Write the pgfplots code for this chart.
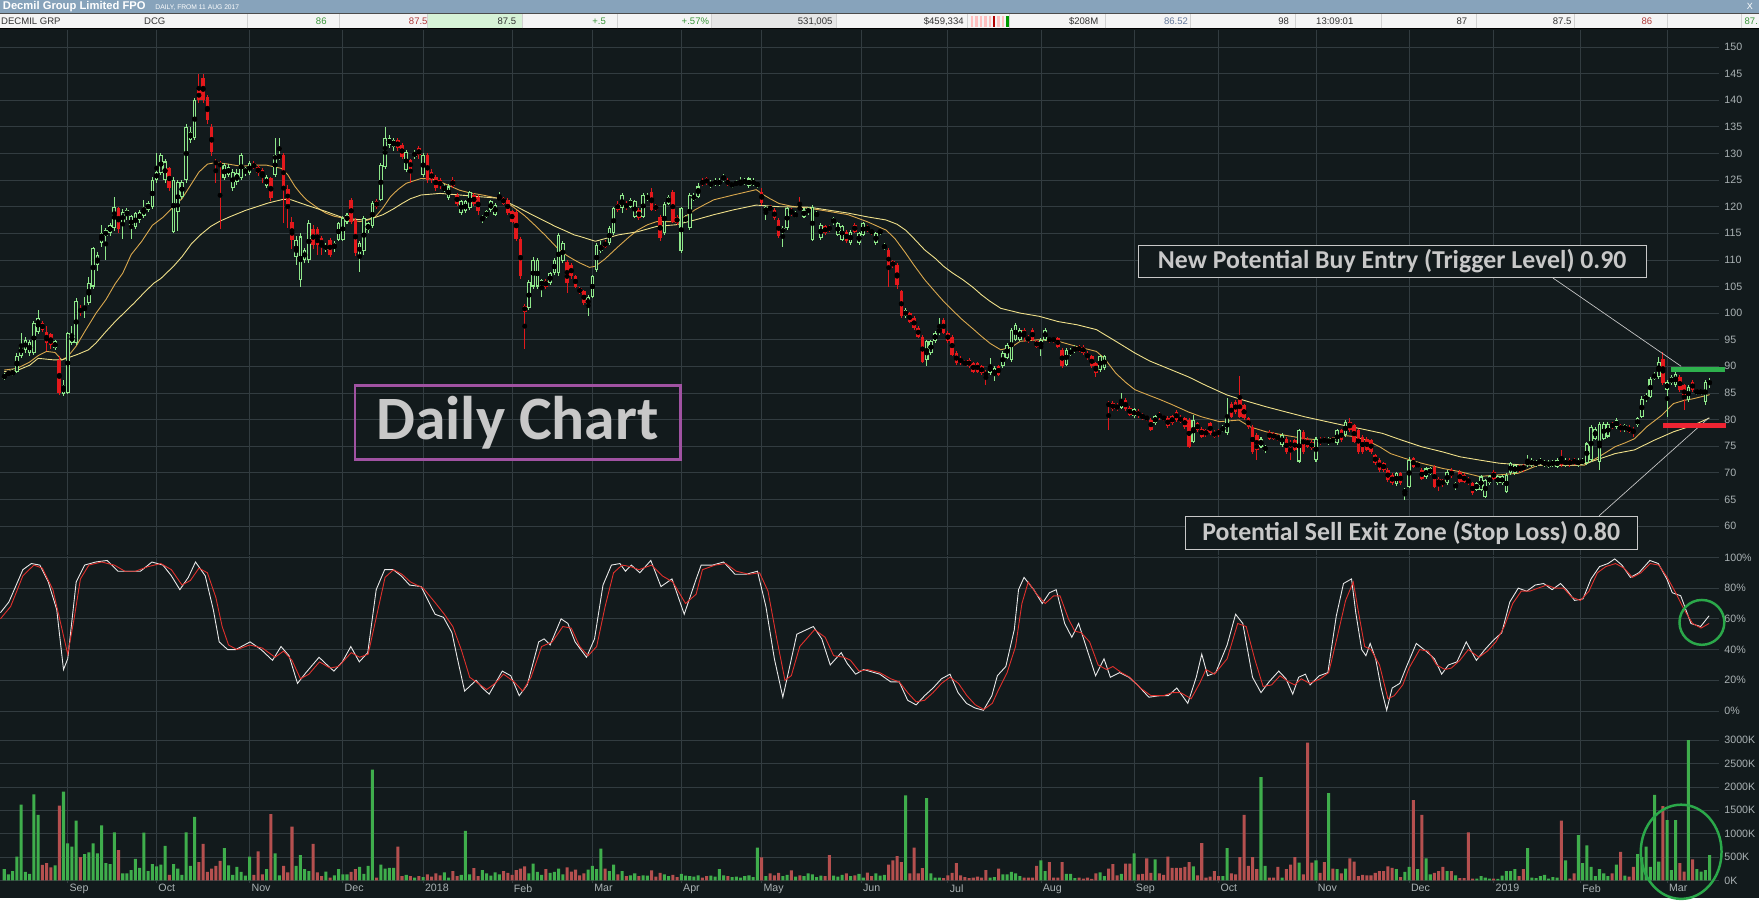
\documentclass[border=0pt]{standalone}
\usepackage{fontspec}
\setmainfont{Liberation Sans}
\newfontfamily\calib{Carlito}
\usepackage{pgfplots}
\usepackage{pgfplotstable}
\pgfplotsset{compat=1.18}
\definecolor{bg}{RGB}{18,26,28}
\definecolor{gridc}{RGB}{50,60,64}
\definecolor{lab}{RGB}{170,178,180}
\definecolor{cup}{RGB}{143,232,139}
\definecolor{cdn}{RGB}{227,25,28}
\definecolor{volg}{RGB}{63,174,76}
\definecolor{volr}{RGB}{181,80,79}
\definecolor{mafast}{RGB}{217,168,78}
\definecolor{maslow}{RGB}{239,224,138}
\definecolor{stw}{RGB}{232,232,232}
\definecolor{str}{RGB}{224,48,44}
\definecolor{boxt}{RGB}{200,200,200}
\definecolor{purp}{RGB}{160,82,162}
\definecolor{lvlg}{RGB}{46,177,77}
\definecolor{lvlr}{RGB}{238,36,50}
\definecolor{circ}{RGB}{43,168,74}
\definecolor{titlebar}{RGB}{135,163,187}
\definecolor{rowbg}{RGB}{244,244,244}
\definecolor{rowtx}{RGB}{50,50,50}
\definecolor{rowg}{RGB}{58,150,58}
\definecolor{rowr}{RGB}{176,58,58}
\definecolor{cellg}{RGB}{214,242,214}
\definecolor{cellgr}{RGB}{230,230,230}
\definecolor{rowb}{RGB}{100,120,155}

\pgfplotstableread{
d o h l c v
0 87.7 88.8 87.4 88.4 240
1 88.4 89.2 88.2 88.9 130
2 88.5 89.5 88.2 89.0 200
3 89.0 92.5 88.8 91.9 510
4 91.9 96.2 91.5 94.0 1620
5 93.0 95.5 92.5 95.0 180
6 92.5 95.0 92.0 94.5 140
7 92.5 98.5 92.2 98.1 1840
8 96.5 100.6 96.0 99.0 1400
9 98.1 98.5 96.5 96.9 330
10 96.5 97.5 92.8 94.4 370
11 96.0 96.2 93.2 94.0 280
12 93.4 95.0 93.0 94.7 320
13 91.2 92.0 84.6 85.0 1600
14 84.8 87.5 84.5 86.5 1900
15 85.0 96.5 84.8 96.2 790
16 94.4 97.5 94.0 96.0 720
17 94.4 102.8 94.0 102.2 1280
18 101.0 101.5 99.5 100.0 500
19 100.5 103.0 99.0 101.2 560
20 101.9 106.8 101.5 105.6 600
21 105.0 112.5 104.5 112.2 790
22 109.0 111.5 108.0 111.0 580
23 113.1 116.5 112.5 115.0 1180
24 114.4 116.0 110.0 115.6 370
25 115.0 117.0 114.5 116.6 350
26 116.0 121.9 115.5 120.0 1030
27 119.7 120.0 115.0 115.9 650
28 116.9 119.5 114.0 119.0 150
29 118.2 119.8 117.5 119.4 150
30 116.0 118.5 114.0 118.2 220
31 116.2 119.0 115.8 118.8 460
32 117.5 119.3 117.0 119.0 270
33 118.2 121.2 117.8 120.0 1020
34 119.4 121.0 119.0 120.7 200
35 120.0 125.5 119.5 125.0 350
36 125.0 130.0 124.5 126.6 300
37 126.3 130.0 126.0 129.7 340
38 125.0 129.0 124.5 128.5 740
39 127.2 127.5 123.0 123.5 120
40 115.3 125.5 115.0 125.0 350
41 119.0 125.0 115.5 124.7 250
42 121.9 125.0 121.5 124.7 120
43 125.0 135.5 124.5 135.0 1030
44 132.5 135.0 132.0 134.1 310
45 132.9 140.5 132.5 140.0 1360
46 141.9 145.0 139.5 140.0 390
47 144.1 145.0 139.5 140.0 780
48 140.7 141.0 135.5 136.3 180
49 135.0 135.5 129.5 130.3 250
50 128.5 129.0 124.5 128.0 310
51 128.2 128.5 115.8 127.5 420
52 125.3 128.3 125.0 127.8 690
53 126.0 128.0 125.5 127.5 320
54 123.5 127.0 123.0 126.6 120
55 124.7 127.0 124.0 126.3 290
56 125.3 130.0 125.0 129.7 185
57 126.3 127.5 125.8 127.2 100
58 126.3 128.5 126.0 128.2 510
59 128.2 128.5 127.0 127.2 120
60 127.5 127.8 125.8 126.3 620
61 126.9 127.2 124.5 125.6 130
62 123.8 126.0 123.5 125.6 240
63 125.3 125.6 121.0 121.6 1420
64 126.0 133.0 125.5 129.7 580
65 129.1 133.0 128.8 129.7 110
66 129.7 130.0 117.0 123.1 310
67 123.4 124.0 116.0 120.6 170
68 117.2 118.0 112.0 113.8 1150
69 110.6 114.5 109.0 113.8 310
70 106.2 115.0 105.0 114.4 540
71 110.0 112.3 109.5 111.9 240
72 110.0 117.5 109.5 116.9 200
73 115.9 116.5 112.0 112.8 780
74 115.9 116.2 111.0 112.8 170
75 114.1 114.5 111.0 112.5 90
76 111.9 113.2 111.5 112.8 190
77 113.8 114.2 110.5 111.0 60
78 112.2 113.5 111.5 113.1 110
79 113.8 117.2 113.5 116.9 240
80 113.8 118.2 113.5 117.8 130
81 117.2 118.8 116.8 118.5 130
82 121.3 121.6 116.8 117.2 180
83 117.5 117.8 110.8 111.3 240
84 110.9 113.5 107.8 113.1 290
85 111.6 118.2 111.0 117.8 140
86 115.6 117.2 115.0 116.9 310
87 116.3 121.0 116.0 120.7 2370
88 121.0 121.5 119.5 120.0 60
89 121.3 128.2 121.0 127.8 340
90 127.5 135.0 127.0 132.9 250
91 131.6 133.5 131.0 132.9 270
92 131.3 133.0 130.5 132.6 270
93 132.6 133.0 130.5 131.0 720
94 131.6 131.9 129.0 129.4 90
95 126.9 130.6 126.5 130.3 120
96 128.8 129.0 124.4 127.0 90
97 129.4 130.6 129.0 130.3 60
98 131.0 131.5 129.0 129.7 90
99 126.0 130.0 125.5 129.7 70
100 129.7 130.0 124.5 125.0 130
101 126.6 127.0 124.5 125.0 80
102 125.6 126.0 123.0 123.5 150
103 125.0 125.3 123.3 123.8 110
104 123.1 124.2 122.8 123.8 170
105 121.6 124.2 121.3 123.8 60
106 125.0 125.5 123.5 123.8 200
107 122.2 122.5 120.2 120.6 90
108 118.8 121.3 118.5 121.0 120
109 119.1 121.3 118.8 121.0 1060
110 119.7 123.0 119.4 122.8 130
111 122.2 122.5 120.2 120.6 260
112 121.9 122.2 118.5 119.1 90
113 117.5 118.5 116.9 118.1 220
114 118.1 119.4 117.8 119.1 150
115 119.4 121.3 119.0 121.0 100
116 118.5 120.7 118.2 120.4 170
117 121.3 122.8 121.0 121.9 130
118 121.6 121.9 120.3 120.6 200
119 121.3 121.6 118.5 118.8 160
120 119.1 119.4 116.9 117.2 120
121 119.0 119.3 113.5 114.0 220
122 114.0 114.3 106.5 106.9 250
123 101.3 101.8 93.3 100.3 300
124 100.9 106.2 100.5 105.9 150
125 105.0 110.5 104.5 110.0 360
126 105.0 110.3 104.5 110.0 180
127 105.0 106.5 103.0 106.2 120
128 106.0 106.5 104.6 105.0 240
129 105.6 107.8 105.3 107.5 160
130 107.5 110.3 107.2 110.0 180
131 107.5 115.0 107.0 114.7 250
132 109.7 113.5 109.4 113.1 130
133 109.7 110.0 103.8 105.6 280
134 109.1 109.4 106.5 106.9 190
135 106.9 107.2 104.7 105.0 230
136 104.7 105.0 103.5 103.8 110
137 104.1 104.4 101.5 101.9 150
138 101.2 103.4 99.4 103.1 230
139 103.1 107.2 102.8 106.9 310
140 108.1 113.1 107.8 112.8 240
141 111.6 113.5 111.3 112.8 680
142 113.4 113.7 112.2 112.5 250
143 113.1 116.3 112.8 116.0 200
144 115.0 120.0 114.7 119.7 340
145 120.6 121.0 119.0 119.4 130
146 119.7 122.5 118.8 122.2 200
147 120.6 121.0 119.4 119.7 90
148 120.0 121.6 119.7 121.3 110
149 118.1 121.3 117.8 121.0 150
150 119.4 119.7 117.5 117.8 90
151 118.1 122.5 117.8 122.2 110
152 121.3 122.5 121.0 122.2 100
153 122.8 123.5 119.1 119.4 215
154 120.3 120.6 119.1 119.4 80
155 118.1 118.4 113.5 114.1 160
156 115.0 120.9 114.7 120.6 130
157 120.6 122.2 120.3 121.9 90
158 122.8 123.1 116.9 117.2 120
159 118.1 118.4 116.6 116.9 70
160 111.6 120.0 111.3 119.7 140
161 117.2 118.4 116.9 118.1 100
162 116.0 122.5 115.7 122.2 90
163 121.3 122.5 121.0 122.2 80
164 121.9 124.5 121.6 123.8 110
165 125.0 125.3 123.8 124.1 60
166 125.3 125.6 124.1 124.4 90
167 123.8 125.0 123.5 124.7 100
168 124.1 125.3 123.8 125.0 80
169 124.1 125.3 123.8 125.0 240
170 125.0 126.1 124.7 125.8 110
171 125.0 125.3 123.8 124.1 90
172 123.8 124.7 123.5 124.4 70
173 124.1 125.0 123.8 124.7 80
174 124.1 125.5 123.8 124.7 60
175 124.4 125.3 124.1 125.0 90
176 123.8 125.6 123.5 125.3 110
177 124.1 125.3 123.8 125.0 70
178 123.9 124.7 123.6 124.4 700
179 122.8 123.5 120.4 120.7 490
180 118.8 120.3 117.5 120.0 90
181 120.0 120.3 119.1 119.4 150
182 119.4 119.7 117.5 117.8 110
183 117.5 117.8 114.1 114.4 160
184 115.0 116.3 112.5 116.0 90
185 116.0 120.0 115.7 119.7 120
186 119.4 119.7 118.2 118.8 215
187 118.1 119.1 117.8 118.8 80
188 120.0 121.9 119.1 119.4 110
189 118.1 119.7 117.8 119.4 90
190 118.8 120.0 118.5 119.7 150
191 113.8 120.3 113.5 120.0 130
192 118.3 119.1 118.0 118.8 70
193 114.1 116.9 113.8 116.6 100
194 116.3 116.6 114.7 115.0 90
195 116.3 116.6 115.3 115.6 540
196 116.9 118.1 116.6 117.8 100
197 114.7 117.2 114.4 116.9 80
198 113.8 116.6 113.5 116.3 120
199 115.3 115.6 113.2 113.5 150
200 113.1 115.6 112.8 115.3 90
201 116.6 116.9 115.0 115.3 110
202 113.1 115.3 112.8 115.0 140
203 114.7 117.2 114.4 116.9 60
204 116.3 116.6 115.3 115.6 165
205 115.6 115.9 114.7 115.0 90
206 113.1 115.3 112.8 115.0 150
207 115.0 115.9 114.7 115.6 100
208 112.2 113.1 111.9 112.8 120
209 111.9 112.2 104.9 108.4 340
210 109.7 110.0 108.5 108.8 430
211 109.1 109.4 104.5 105.3 520
212 104.1 104.4 99.1 99.4 390
213 99.4 100.9 99.1 100.6 1820
214 100.0 100.3 98.1 98.4 150
215 99.1 99.4 96.9 97.2 700
216 97.2 97.5 95.3 95.6 150
217 95.6 95.9 90.6 90.9 260
218 91.2 95.0 90.0 94.7 1760
219 92.5 95.0 92.2 94.7 150
220 94.7 96.6 94.4 96.3 60
221 96.2 99.1 95.9 97.2 60
222 98.7 99.1 96.0 96.3 50
223 96.3 96.6 94.4 94.7 110
224 95.6 95.9 91.9 92.2 160
225 92.5 92.8 90.3 90.6 370
226 91.6 91.9 90.3 90.6 110
227 90.9 91.2 90.0 90.3 70
228 91.2 91.5 89.7 90.0 50
229 90.6 90.9 88.7 89.0 60
230 90.6 90.9 88.7 89.0 80
231 90.0 90.3 88.4 88.7 60
232 89.0 89.3 86.5 88.1 220
233 88.7 91.5 88.4 90.3 60
234 88.1 90.0 87.2 89.7 70
235 90.0 90.3 88.1 88.4 250
236 90.0 92.8 89.7 92.5 130
237 91.6 94.4 91.3 94.1 130
238 91.2 97.2 90.9 96.9 180
239 95.0 98.1 94.7 97.8 150
240 95.0 97.2 94.7 96.9 90
241 96.9 97.2 94.5 95.6 60
242 95.6 95.9 94.4 94.7 60
243 96.9 97.2 94.7 95.0 60
244 94.7 95.0 93.4 93.7 310
245 93.4 95.3 92.0 95.0 430
246 95.0 97.2 94.7 96.9 200
247 95.3 95.6 94.4 94.7 390
248 95.3 95.6 94.4 94.7 60
249 95.3 95.6 93.4 93.7 60
250 93.1 93.4 89.7 90.0 390
251 90.3 93.4 90.0 93.1 140
252 92.2 93.4 91.9 93.1 140
253 92.8 94.0 92.5 93.7 50
254 93.7 94.0 92.6 92.9 60
255 93.7 94.0 92.2 92.5 40
256 92.5 92.8 91.2 91.5 60
257 91.9 92.2 89.7 90.0 30
258 90.6 90.9 88.0 88.7 150
259 89.3 92.2 89.0 91.9 170
260 89.7 92.2 89.4 91.9 90
261 83.1 83.4 78.1 82.5 250
262 83.1 83.4 81.6 81.9 350
263 82.8 83.1 81.6 81.9 110
264 82.2 85.0 81.9 83.7 140
265 83.7 84.0 81.6 81.9 360
266 82.2 82.5 80.6 80.9 360
267 80.6 82.2 80.3 81.9 580
268 81.6 81.9 80.3 80.6 130
269 80.9 81.2 80.0 80.3 140
270 80.6 80.9 79.7 80.0 470
271 80.0 80.3 77.8 78.1 160
272 79.3 80.9 79.0 80.6 450
273 81.2 81.5 80.0 80.3 150
274 80.6 80.9 79.7 80.0 120
275 80.3 80.6 78.4 78.7 510
276 80.6 80.9 79.0 79.3 270
277 81.5 81.8 79.6 79.9 270
278 80.5 80.8 79.3 79.6 270
279 80.2 80.5 78.3 78.6 290
280 79.9 80.2 74.6 74.9 390
281 75.8 80.8 75.5 79.9 300
282 79.3 79.6 77.7 78.0 110
283 78.3 78.6 76.5 76.8 800
284 78.0 78.3 76.7 77.0 60
285 79.3 79.6 77.1 77.4 80
286 77.7 78.0 76.5 76.8 200
287 78.0 78.3 76.8 77.1 90
288 77.9 78.9 77.6 78.6 90
289 77.4 84.0 77.1 80.5 690
290 83.0 83.3 80.2 80.5 150
291 83.3 83.6 81.1 81.4 130
292 84.3 88.1 80.2 80.5 500
293 82.7 83.0 79.9 80.2 1400
294 80.2 80.5 78.3 78.6 310
295 78.6 78.9 73.6 73.9 500
296 77.1 77.4 72.4 74.3 240
297 74.9 76.7 74.6 76.4 2210
298 74.1 75.3 73.8 75.0 310
299 77.7 78.0 76.1 76.4 60
300 77.4 77.7 76.1 76.4 60
301 76.9 77.2 75.9 76.2 290
302 75.2 77.4 74.9 77.1 60
303 76.4 76.7 73.6 73.9 240
304 75.8 76.1 72.4 74.9 340
305 76.1 76.4 74.0 74.3 500
306 72.1 78.3 71.8 78.0 380
307 77.7 78.0 73.6 73.9 130
308 76.4 76.7 74.6 74.9 2950
309 75.8 76.1 74.3 74.6 380
310 72.4 76.7 72.1 76.4 430
311 76.4 76.7 75.2 75.5 160
312 76.4 76.7 75.5 75.8 390
313 75.5 76.7 75.2 76.4 1870
314 76.4 76.7 75.5 75.8 250
315 75.5 78.3 75.2 78.0 240
316 78.0 78.3 75.8 76.1 150
317 77.1 79.9 76.8 79.6 250
318 79.6 80.2 77.7 78.0 470
319 78.9 79.2 75.5 75.8 400
320 78.0 78.3 73.6 73.9 90
321 76.7 77.0 73.6 73.9 120
322 76.4 76.7 74.0 74.3 110
323 76.1 76.4 73.6 73.9 110
324 73.3 73.6 71.5 71.8 160
325 72.4 72.7 70.2 70.5 200
326 71.8 72.1 70.2 70.5 200
327 70.5 70.8 68.3 68.6 300
328 69.6 69.9 67.7 68.0 270
329 67.9 70.2 67.6 69.9 240
330 69.9 70.2 67.7 68.0 70
331 66.1 67.1 64.9 66.8 180
332 67.4 73.0 67.1 72.4 290
333 72.7 73.0 70.8 71.1 1720
334 71.1 72.1 70.8 71.8 240
335 70.5 70.8 68.6 68.9 1400
336 69.2 71.1 68.9 70.8 470
337 69.8 71.1 69.5 70.8 130
338 71.1 71.4 67.1 67.4 160
339 68.9 69.2 66.5 67.7 200
340 68.6 68.9 67.4 67.7 290
341 68.0 70.5 67.7 70.2 200
342 70.5 70.8 69.0 69.3 200
343 67.1 68.3 66.8 68.0 110
344 70.2 70.5 68.0 68.3 50
345 69.6 69.9 68.0 68.3 50
346 68.9 69.2 67.7 68.0 1030
347 68.0 68.3 65.8 66.1 40
348 66.8 68.3 66.5 68.0 40
349 66.8 69.6 66.5 69.3 90
350 65.5 68.9 65.2 68.6 60
351 68.0 69.6 67.7 69.3 40
352 70.2 70.5 68.6 68.9 40
353 68.0 69.6 67.7 69.3 30
354 68.0 69.6 67.7 69.3 100
355 66.4 69.9 66.1 69.6 200
356 69.9 72.1 69.6 71.8 200
357 69.9 71.7 69.6 71.4 240
358 71.1 71.4 70.2 70.5 90
359 71.4 71.7 70.2 70.5 240
360 71.4 73.3 71.1 72.4 690
361 71.4 72.7 71.1 72.4 60
362 71.4 72.4 71.1 72.1 50
363 71.8 72.7 71.5 72.4 90
364 71.4 72.4 71.1 72.1 120
365 71.1 72.4 70.8 72.1 40
366 71.4 72.4 71.1 72.1 70
367 71.1 72.7 70.8 72.4 60
368 72.7 74.3 71.1 71.4 1280
369 71.4 72.7 71.1 72.4 430
370 72.4 72.7 71.1 71.4 40
371 72.4 72.7 71.5 71.8 150
372 71.4 72.7 71.1 72.4 970
373 71.8 72.7 71.5 72.4 370
374 71.8 75.8 71.5 75.5 750
375 72.4 78.9 72.1 78.6 290
376 76.4 78.6 76.1 78.3 90
377 72.0 79.5 70.5 79.2 240
378 76.4 79.5 76.1 79.2 150
379 76.8 79.5 76.5 79.2 90
380 79.2 79.5 78.3 78.6 150
381 78.6 80.2 78.3 79.9 340
382 78.9 79.2 77.7 78.0 610
383 78.0 79.2 77.7 78.9 100
384 78.6 78.9 77.4 77.7 80
385 78.3 78.6 76.8 77.4 290
386 78.9 80.5 78.6 80.2 560
387 80.5 84.5 80.2 83.9 500
388 83.6 84.9 83.3 84.6 720
389 84.3 88.0 84.0 87.7 290
390 87.7 88.9 87.4 88.6 1830
391 88.0 91.8 87.7 90.8 400
392 91.4 92.6 86.5 86.8 1590
393 85.5 87.4 80.5 87.1 1290
394 86.8 88.3 86.5 88.0 220
395 86.4 89.2 86.1 88.6 1290
396 88.0 88.3 85.2 85.5 370
397 86.4 86.7 81.8 84.0 190
398 83.6 86.4 83.3 86.1 3000
399 87.1 87.4 85.2 85.5 450
400 84.9 85.8 84.6 85.5 240
401 84.9 85.8 84.6 85.5 190
402 83.3 87.4 82.8 87.1 220
403 86.4 87.8 86.0 87.5 540
}\candles

\pgfplotsset{
  panel/.style={
    scale only axis, width=1532pt, xmin=-0.9, xmax=405.15,
    anchor=south west, clip=false,
    axis line style={draw=none}, major tick length=0pt,
    xmajorgrids, ymajorgrids,
    grid style={draw=gridc, line width=0.7pt},
    xtick={15,36,58,80,99,120,139,160,179,202.5,223,245,267,287,310,332,352,372.5,393},
    xticklabels={},
    yticklabel pos=right,
    yticklabel style={anchor=west, inner sep=0pt, xshift=5pt,
      font=\fontsize{9.5}{10}\selectfont, text=lab},
  },
  upf/.style={restrict expr to domain={\thisrow{c}-\thisrow{o}}{0:1000}},
  dnf/.style={restrict expr to domain={\thisrow{c}-\thisrow{o}}{-1000:-0.0001}},
}

\begin{document}
\begin{tikzpicture}[x=1pt,y=1pt]
\fill[bg] (0,0) rectangle (1568,801);
% header
\fill[titlebar] (0,789) rectangle (1568,801);
\fill[rowbg] (0,775.5) rectangle (1568,788.2);
\fill[black!70] (0,788.2) rectangle (1568,789);
\fill[black] (0,774.8) rectangle (1568,775.6);
\fill[cellg] (381,775.6) rectangle (465,788.2);
\fill[cellgr] (634,775.6) rectangle (745,788.2);
\foreach \sx in {220,302,381,465,550,634,745,862,900,985,1061,1155,1231,1316,1403,1486,1552}{
  \draw[black!18, line width=0.6pt] (\sx,775.6) -- (\sx,788.2);}
\foreach \bx/\bc in {865/red!25,869/red!25,873/red!25,877/red!25,881/red!25,885/red!70!black,889/red!25,893/red!25,897/green!60!black}{
  \fill[\bc] (\bx,777) rectangle (\bx+2.2,787);}
\node[anchor=west, text=white, font=\bfseries\fontsize{10}{11}\selectfont, inner sep=0pt] at (2,795) {Decmil Group Limited FPO};
\node[anchor=west, text=white, font=\fontsize{6}{7}\selectfont, inner sep=0pt] at (138,794.5) {DAILY, FROM 11 AUG 2017};
\node[anchor=west, text=white, font=\fontsize{8}{9}\selectfont, inner sep=0pt] at (1557,795) {X};
\begin{scope}[every node/.style={inner sep=0pt, font=\fontsize{8.5}{9}\selectfont, text=rowtx}]
\node[anchor=west] at (0.5,781.8) {DECMIL GRP};
\node[anchor=west] at (128,781.8) {DCG};
\node[anchor=east, text=rowg] at (291,781.8) {86};
\node[anchor=east, text=rowr] at (381,781.8) {87.5};
\node[anchor=east] at (460,781.8) {87.5};
\node[anchor=east, text=rowg] at (540,781.8) {+.5};
\node[anchor=east, text=rowg] at (632,781.8) {+.57\%};
\node[anchor=east] at (742,781.8) {531,005};
\node[anchor=east] at (859,781.8) {\$459,334};
\node[anchor=east] at (979,781.8) {\$208M};
\node[anchor=east, text=rowb] at (1059,781.8) {86.52};
\node[anchor=east] at (1149,781.8) {98};
\node[anchor=west] at (1173,781.8) {13:09:01};
\node[anchor=east] at (1308,781.8) {87};
\node[anchor=east] at (1401,781.8) {87.5};
\node[anchor=east, text=rowr] at (1473,781.8) {86};
\node[anchor=west, text=rowg] at (1555,781.8) {87.};
\end{scope}

% ===== PRICE PANEL =====
\begin{axis}[panel, at={(0pt,306pt)}, height=468pt, ymin=54.51, ymax=153.16,
  ytick={60,65,...,150},
  yticklabels={60,65,70,75,80,85,90,95,100,105,110,115,120,125,130,135,140,145,150}]
\addplot[mafast, line width=0.8pt] coordinates {
(0,89.3) (3,89.6) (6,90.8) (8,92.0) (10,92.8) (12,92.6) (13.6,91.2) (15,91.8) (17,93.8) (19,96.5) (21.7,100) (24,102.5) (26.2,105.5) (28,107.5) (30,111) (32.5,113.5) (35,116.5) (37.5,118) (40,120) (42,121.5) (44,124) (46,126.5) (48,128) (50,128.3) (53,128) (56,127.6) (59,127.8) (62,127.8) (65.5,127.2) (67,126) (68.7,123.8) (70,122.5) (71.4,121.3) (74,119.8) (76,118.8) (78,118.2) (80.5,117.8) (84,117.2) (86,117.5) (87.7,118.1) (89.5,119.8) (91.3,121.9) (93,123.2) (95,124.4) (98.5,125.3) (101,125.2) (103,124.7) (105,124) (107.6,123.1) (110,122.6) (113,122.2) (116.6,121.6) (118,121.2) (120.2,120) (123,118.3) (125.7,116.3) (128,114.5) (131.1,111.9) (133,110.8) (134.7,110) (136.1,109.4) (138.3,108.6) (139.7,108.8) (142,110.2) (145.1,112.5) (147.5,114.2) (149.7,115.6) (152,116.6) (154.2,117.2) (158.7,117.2) (161,118.2) (163.2,119.4) (165.5,120.4) (167.7,121.3) (172.3,122.2) (177.7,123.2) (179.5,122.2) (181,121.5) (183.1,120.6) (186,120.1) (190.3,119.7) (195,119.1) (199.4,118.5) (203.9,117.2) (208.4,115.6) (210.5,114) (213,111.3) (215,109) (217.5,106.3) (220,104) (222,102.2) (224,100.6) (226.5,98.7) (229,97) (231,95.6) (233,94.3) (235.5,93.1) (238,93.6) (240.1,94.7) (244.6,95) (249.1,94.7) (253.6,93.7) (258.1,92.8) (260,91.5) (262.7,88.7) (265,87) (267.2,85.6) (270.7,84.5) (273,83.8) (276,82.8) (279.9,81.4) (283,80.5) (287.2,79.6) (291.8,79.9) (294.5,78.6) (298.2,77.7) (303,77) (307.4,76.4) (312,76.1) (316.6,77) (319,76.8) (322,76.1) (325,74.9) (327.6,73.6) (331,72.7) (334.9,71.8) (340,70.8) (344,70.2) (348.6,69.3) (353.2,69.6) (357.8,69.9) (360,70.6) (362.4,71.4) (367,71.4) (373.4,71.4) (376.2,72.7) (378.5,73.8) (380.7,74.9) (383,75.6) (385.3,76.4) (388.1,78.6) (391.7,80.8) (394.5,83) (397,83.6) (399.1,83.9) (402.7,84.6) (403,84.7)};
\addplot[maslow, line width=0.8pt] coordinates {
(0,89.0) (3,89.2) (6,90.2) (8,91.5) (11.8,91.2) (13.6,91.2) (17.2,92.2) (19.9,93.1) (21.7,94.4) (24,96.5) (26.2,98.4) (28,99.8) (30.7,101.9) (33,103.8) (35.3,105.6) (37,106.5) (40,108.8) (42,110.6) (44.3,113.1) (46.5,114.8) (48.8,116.3) (51,117.3) (53.3,118.1) (57,119.3) (62.4,120.7) (66,121.4) (67.8,121.3) (71.4,120.3) (76,119.1) (80.5,117.8) (85,117.5) (87,117.8) (89.5,118.5) (92,119.6) (94,120.6) (96,121.5) (98.5,122.2) (103,122.5) (107.6,122.2) (112,121.9) (116.6,121.6) (119,120.8) (121.1,120) (123.5,119) (125.7,118.1) (128,117.2) (130.2,116.3) (132.5,115.5) (134.7,114.7) (136.1,114.4) (139.7,113.5) (142,114) (145.1,114.7) (149.7,115.3) (154.2,116.3) (158.7,116.6) (163.2,117.5) (167.7,118.5) (172.3,119.4) (177.7,120.3) (183.1,120) (190.3,119.9) (199.4,118.8) (203.9,118.1) (208.4,117.5) (211,116.7) (213,115.6) (215,114) (217.5,111.9) (220,110.3) (222,108.8) (224,107.6) (226.5,106.3) (229,104.8) (231,103.4) (233,102.2) (235.5,100.9) (240.1,100) (244.6,99.4) (249.1,98.4) (253.6,97.8) (258.1,96.9) (262.7,94.7) (267.2,92.5) (270.7,91.0) (275,89.6) (279.9,88) (284,86.4) (289,84.6) (293,83.6) (298.2,82.4) (303,81.4) (307.4,80.5) (312,79.7) (316.6,78.9) (321,78.2) (325.7,77.4) (330,76.2) (334.9,74.9) (340,73.9) (344,73) (348.5,72.4) (353.2,71.8) (358,71.5) (362.4,71.4) (367,71.4) (371.6,71.4) (374,71.8) (376.2,72.4) (380.7,73.6) (385.3,74.3) (389.9,76.1) (394.5,77.7) (399.1,78.9) (402.7,80.2) (403,80.3)};
% up candles: wick, body, hollow
\addplot[upf, only marks, mark=none, error bars/.cd, y dir=both, y explicit, error mark=none,
  error bar style={draw=cup, line width=0.9pt}]
  table[x=d, y expr={0.5*(\thisrow{h}+\thisrow{l})}, y error expr={0.5*(\thisrow{h}-\thisrow{l})}]{\candles};
\addplot[upf, only marks, mark=none, error bars/.cd, y dir=both, y explicit, error mark=none,
  error bar style={draw=cup, line width=3.2pt}]
  table[x=d, y expr={0.5*(\thisrow{o}+\thisrow{c})}, y error expr={max(0.5*(\thisrow{c}-\thisrow{o}),0.12)}]{\candles};
\addplot[upf, only marks, mark=none, error bars/.cd, y dir=both, y explicit, error mark=none,
  error bar style={draw=bg, line width=1.4pt}]
  table[x=d, y expr={0.5*(\thisrow{o}+\thisrow{c})}, y error expr={max(0.5*(\thisrow{c}-\thisrow{o})-0.2,0)}]{\candles};
% down candles
\addplot[dnf, only marks, mark=none, error bars/.cd, y dir=both, y explicit, error mark=none,
  error bar style={draw=cdn, line width=0.9pt}]
  table[x=d, y expr={0.5*(\thisrow{h}+\thisrow{l})}, y error expr={0.5*(\thisrow{h}-\thisrow{l})}]{\candles};
\addplot[dnf, only marks, mark=none, error bars/.cd, y dir=both, y explicit, error mark=none,
  error bar style={draw=cdn, line width=3.2pt}]
  table[x=d, y expr={0.5*(\thisrow{o}+\thisrow{c})}, y error expr={max(0.5*(\thisrow{o}-\thisrow{c}),0.12)}]{\candles};
% annotations
\draw[boxt, line width=0.6pt] (axis cs:366,106.6) -- (axis cs:396.3,90.0);
\draw[boxt, line width=0.6pt] (axis cs:376.9,61.9) -- (axis cs:402.8,80.3);
\draw[lvlg, line width=5pt] (axis cs:394,89.4) -- (axis cs:406.6,89.4);
\draw[lvlr, line width=5pt] (axis cs:392,78.9) -- (axis cs:406.8,78.9);
\node[draw=purp, line width=2.5pt, minimum width=290pt, minimum height=66pt, inner sep=0pt,
  text=boxt, font=\calib\bfseries\fontsize{55}{60}\selectfont] at (axis cs:121.3,79.4) {Daily Chart};
\node[draw=boxt, line width=0.8pt, fill=bg, minimum width=453pt, minimum height=29pt, inner sep=0pt,
  text=boxt, font=\calib\bfseries\fontsize{23}{26}\selectfont] at (axis cs:328,109.7) {New Potential Buy Entry (Trigger Level) 0.90};
\node[draw=boxt, line width=0.8pt, fill=bg, minimum width=403pt, minimum height=29pt, inner sep=0pt,
  text=boxt, font=\calib\bfseries\fontsize{23}{26}\selectfont] at (axis cs:332.5,58.7) {Potential Sell Exit Zone (Stop Loss) 0.80};
\end{axis}

% ===== STOCHASTIC PANEL =====
\begin{axis}[panel, at={(0pt,151pt)}, height=154pt, ymin=-11.68, ymax=100.73,
  ytick={0,20,...,100}, yticklabels={0\%,20\%,40\%,60\%,80\%,100\%}]
\addplot[stw, line width=0.8pt] coordinates {
(-0.9,64) (1.1,71) (4.4,92) (6.4,96) (8.4,95) (10.4,84) (12.4,66) (14,27) (15,34) (17,84) (19,95) (21.6,97) (24.3,98) (26.9,91) (29.6,91) (32.2,91) (34.9,97) (37.5,95) (39.5,88) (41.5,79) (43.5,87) (45.2,97) (47.5,88) (49.4,66) (50.8,45) (52.8,40) (54.7,40) (58.1,45) (60.7,40) (63.4,33) (65.4,42) (67.3,36) (69.3,18) (71.3,25) (74.4,35) (75.9,31) (77.9,26) (79.9,32) (81.9,42) (83.9,32) (85.9,38) (87.9,79) (89.9,92) (91.9,92) (93.8,88) (95.8,82) (98.5,81) (101.8,63) (103.8,61) (105.8,51) (107.1,34) (108.8,13) (111.5,20) (113,15) (114.6,11) (117.7,26) (119.7,23) (121.7,10) (123.6,17) (126.3,45) (127.6,47) (129,43) (131.6,60) (133.2,57) (134.9,45) (137.6,35) (139.5,47) (141.5,82) (143.5,95) (145.5,96) (146.8,91) (148.2,95) (150.2,90) (152.8,98) (155.2,81) (157.8,86) (160.7,63) (163.4,85) (164.7,95) (167.4,95) (170,97) (172.7,89) (175.3,89) (178,91) (180,68) (182,34) (184,9) (185.3,25) (187.3,50) (191.2,55) (193.2,47) (195.2,30) (197.8,38) (199.2,31) (201.2,24) (203.1,27) (206.9,24) (209.5,19) (211.5,19) (213.5,7) (215.5,4) (217.5,10) (219.5,15) (221.5,21) (223.5,24) (225.4,12) (227.4,5) (229.4,2) (231.4,0.5) (233.4,10) (234.7,23) (236.7,29) (238.7,53) (239.7,79) (241,87) (243.3,79) (245.3,70) (247,77) (248.6,79) (250.6,57) (252.3,48) (253.9,57) (255.9,40) (257.9,23) (259.9,34) (261.4,22) (263.6,25) (265.8,22) (267.8,17) (270.5,9) (273.1,10) (275.1,10) (277.1,15) (279.7,5) (281.7,22) (283,37) (284.4,23) (286.3,25) (289,43) (291,63) (292.7,57) (295,22) (297,12) (298.9,19) (301.2,26) (302.9,21) (304.5,11) (305.9,22) (307.5,24) (308.6,17) (310.8,23) (312.8,25) (314.8,62) (316.5,83) (318.4,86) (319.4,64) (320.8,40) (321.8,36) (322.8,44) (324.1,34) (325.4,15) (326.7,0.5) (328,15) (329.8,18) (331.4,29) (333.7,44) (336,39) (338,34) (339.7,24) (341.3,30) (343.3,32) (345.5,45) (347.9,33) (349.9,40) (351.9,46) (353.9,51) (355.8,71) (357.8,80) (359.8,78) (361.8,82) (363.8,83) (365.8,79) (367.8,83) (369.5,78) (371.1,72) (373.1,73) (375,86) (377,94) (379,96) (380.6,99) (382.3,95) (384.3,87) (386.3,90) (388.9,98) (390.9,96) (392.9,86) (394.2,77) (396.2,75) (398.6,57) (400.9,55) (402.9,62)};
\addplot[str, line width=0.8pt] coordinates {
(-0.9,60) (1.5,68) (4.4,88) (7,95) (9,93) (11.5,79) (13.5,55) (15,37) (16.5,60) (18,86) (20,95) (23,97) (26,95) (28.5,91) (31,91) (34,94) (37,96) (39.5,92) (42,82) (44,85) (46,93) (48,90) (50,74) (51.5,55) (53,43) (55,40) (58,43) (61,41) (64,35) (66,39) (68,33) (70,21) (72,24) (74.5,32) (77,28) (79,29) (82,38) (84,35) (86,37) (88,62) (90,87) (92,92) (94,89) (96,84) (99,80) (102,70) (104,63) (106,55) (108,40) (110,22) (112,18) (114,14) (116,18) (118,24) (120.5,19) (122.5,13) (124.5,22) (127,42) (129.5,45) (132,55) (134,54) (136,42) (138,36) (140,42) (142,68) (144,90) (146,95) (148,94) (150,92) (153,95) (155.5,88) (158,84) (161,70) (163.5,76) (165,92) (168,95) (170.5,96) (173,91) (176,89) (178.5,90) (180.5,78) (182.5,48) (184.5,20) (186,23) (188,42) (191.5,53) (194,48) (196,36) (198.5,35) (200,33) (202,26) (204,27) (206.9,25) (209.5,21) (211.5,19) (213.5,12) (215.5,6) (217.5,7) (219.5,12) (221.5,18) (223.5,22) (225.5,18) (227.5,10) (229.5,4) (231.5,1) (233.5,5) (235,14) (237,25) (239,42) (240.5,70) (242,84) (244,76) (246,70) (248,75) (249.5,75) (251.5,60) (253,52) (254.5,51) (256.5,45) (258.5,30) (260.5,27) (262,29) (264,25) (266,22) (268.5,15) (271,10) (274,10) (276,12) (278,12) (280.5,8) (282.5,18) (284,27) (286,24) (289,34) (291.5,57) (293.5,55) (295.5,34) (297.5,16) (299.5,17) (301.5,23) (303.5,19) (305,17) (306.5,21) (308.5,18) (311,21) (313,25) (315,48) (317,72) (318.8,84) (320,65) (321.5,42) (323,40) (325,30) (327,8) (328.5,10) (330.5,17) (332,28) (334.5,40) (336.5,39) (338.5,30) (340.5,27) (342,28) (344,33) (346,40) (348.5,35) (350.5,39) (352.5,45) (354.5,55) (356.5,70) (358.5,78) (360.5,78) (362.5,80) (364.5,82) (366.5,80) (368.5,80) (370.5,74) (372.5,72) (374.5,78) (376.5,90) (378.5,94) (380.8,96) (382.8,93) (384.8,87) (386.8,90) (389,96) (391,95) (393,87) (395,77) (397,66) (399,57) (401,54) (402.9,57)};
\draw[circ, line width=2.2pt] (axis cs:401.2,57.7) circle[radius=20pt];
\end{axis}

% ===== VOLUME PANEL =====
\begin{axis}[panel, at={(0pt,14pt)}, height=137pt, ymin=-48, ymax=3240,
  ytick={0,500,...,3000}, yticklabels={0K,500K,1000K,1500K,2000K,2500K,3000K},
  xticklabels={Sep,Oct,Nov,Dec,2018,Feb,Mar,Apr,May,Jun,Jul,Aug,Sep,Oct,Nov,Dec,2019,Feb,Mar},
  xticklabel style={anchor=north west, inner sep=0pt, xshift=1.5pt, yshift=-1.5pt,
    font=\fontsize{9.5}{10}\selectfont, text=lab}]
\addplot[upf, ybar, bar width=2.7pt, bar shift=0pt, fill=volg, draw=none] table[x=d, y=v]{\candles};
\addplot[dnf, ybar, bar width=2.7pt, bar shift=0pt, fill=volr, draw=none] table[x=d, y=v]{\candles};
\draw[circ, line width=2.2pt] (axis cs:396.3,612) ellipse[x radius=36pt, y radius=42pt];
\end{axis}
\end{tikzpicture}
\end{document}
